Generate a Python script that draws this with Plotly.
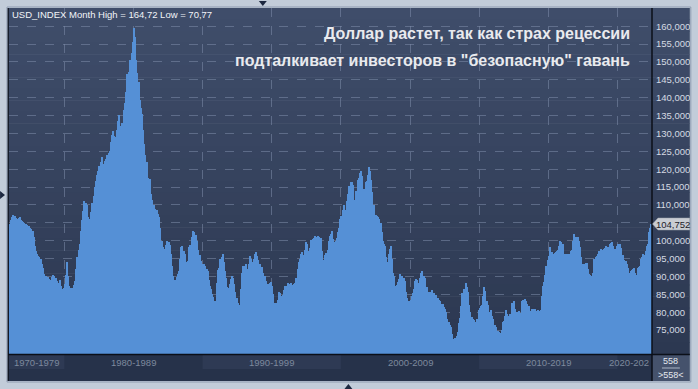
import plotly.graph_objects as go

# ---------------- data (monthly USD index, Jan 1976 - Jun 2022) ----------------
usd_1976_1979 = [
    104.6, 105.8, 106.6, 107.3, 107.0, 106.8, 106.4, 106.1, 106.3, 106.5, 105.8, 105.4,
    105.2, 105.0, 104.7, 104.5, 104.2, 104.0, 103.6, 103.3, 102.6, 101.0, 98.6, 97.0,
    96.2, 95.8, 95.5, 94.9, 93.5, 92.5, 90.8, 89.6, 90.1, 89.8, 89.2, 88.6,
    89.0, 89.8, 90.4, 90.2, 89.6, 88.6, 88.2, 87.8, 88.9, 87.2, 86.6, 86.9,
]
usd_1980_1989 = [
    87.8, 90.5, 94.0, 90.2, 87.4, 86.8, 86.4, 86.9, 87.5, 88.6, 92.0, 95.5,
    97.5, 99.0, 102.6, 105.8, 108.2, 111.2, 110.6, 110.0, 106.6, 104.8, 106.0, 108.0,
    110.5, 112.5, 114.9, 116.8, 118.5, 119.4, 120.8, 122.0, 123.4, 118.0, 121.4, 122.2,
    122.8, 124.1, 124.6, 125.0, 127.5, 129.5, 130.6, 129.2, 129.0, 131.1, 133.4, 135.3,
    132.0, 129.0, 133.0, 136.5, 138.6, 141.7, 146.5, 146.0, 147.3, 150.5, 152.5, 155.5,
    159.5, 157.0, 150.5, 147.0, 144.5, 139.5, 137.0, 135.5, 131.0, 127.0, 124.1, 122.0,
    117.5, 116.5, 117.2, 113.0, 111.5, 110.0, 108.8, 107.5, 108.5, 107.5, 106.5, 103.5,
    99.8, 98.3, 97.8, 97.0, 98.9, 99.8, 99.6, 98.9, 96.2, 93.0, 90.2, 87.0,
    89.0, 89.8, 90.6, 91.4, 95.0, 98.1, 98.5, 97.0, 96.2, 94.0, 92.6, 94.3,
    98.1, 98.9, 101.0, 102.6, 102.3, 99.0, 101.5, 99.8, 97.5, 96.0, 94.2, 93.5,
]
usd_1990_1999 = [
    93.4, 93.6, 92.8, 92.0, 91.4, 89.0, 87.2, 86.4, 85.0, 84.2, 83.0, 82.7,
    88.3, 91.9, 92.5, 94.8, 95.5, 96.2, 94.0, 91.5, 89.5, 87.0, 86.8, 88.0,
    89.2, 90.0, 89.5, 88.0, 85.6, 84.0, 82.7, 80.8, 82.0, 86.5, 91.0, 92.8,
    93.0, 93.5, 92.0, 90.0, 93.5, 95.6, 94.8, 94.0, 95.0, 96.2, 96.7, 95.6,
    94.5, 93.5, 92.6, 92.6, 91.0, 90.0, 90.0, 88.6, 88.0, 88.0, 88.3, 88.5,
    87.2, 85.0, 82.7, 82.5, 82.7, 83.5, 85.6, 85.3, 84.6, 84.8, 86.1, 87.2,
    87.2, 87.0, 88.3, 88.0, 88.2, 86.8, 87.5, 88.0, 88.2, 89.5, 92.0, 94.0,
    95.0, 96.2, 96.7, 96.0, 97.5, 99.5, 99.2, 97.0, 96.5, 98.0, 100.2, 100.6,
    100.8, 101.2, 101.0, 100.4, 101.2, 101.0, 100.8, 97.0, 94.5, 94.3, 95.9, 96.5,
    97.5, 99.8, 101.2, 102.0, 102.6, 100.4, 99.6, 100.0, 100.8, 102.5, 103.5, 106.0,
]
usd_2000_2009 = [
    106.8, 108.5, 110.1, 108.5, 108.7, 111.0, 113.0, 115.2, 116.3, 116.5, 115.5, 111.0,
    111.5, 114.0, 117.1, 117.5, 119.0, 119.4, 118.0, 113.8, 114.5, 116.3, 116.8, 118.5,
    120.5, 119.5, 117.0, 113.5, 110.1, 107.3, 107.2, 107.0, 106.5, 106.0, 105.0, 102.5,
    100.0, 99.0, 98.5, 95.3, 94.0, 96.2, 97.6, 98.5, 94.8, 91.0, 90.0, 87.2,
    87.5, 88.5, 89.2, 90.6, 89.8, 90.0, 89.5, 88.6, 85.6, 84.0, 81.5, 83.0,
    83.5, 84.5, 85.5, 86.4, 88.6, 89.2, 89.0, 88.3, 89.5, 91.1, 91.5, 89.8,
    90.2, 89.5, 87.0, 85.6, 85.6, 85.6, 85.6, 86.1, 85.5, 84.2, 84.8, 84.0,
    84.0, 83.5, 83.2, 82.2, 82.2, 81.5, 80.8, 80.0, 78.0, 77.2, 76.5, 75.8,
    74.0, 72.4, 72.4, 72.8, 73.3, 74.5, 77.0, 78.5, 81.7, 85.5, 86.4, 82.0,
    88.3, 87.0, 85.6, 82.0, 80.0, 78.6, 78.0, 77.8, 77.2, 76.5, 78.0, 80.5,
]
usd_2010_2019 = [
    81.2, 81.7, 82.0, 84.6, 87.0, 86.0, 83.0, 82.0, 80.0, 78.0, 80.5, 79.0,
    78.0, 76.5, 75.8, 74.0, 74.8, 74.5, 74.3, 75.0, 77.2, 77.5, 79.0, 80.5,
    79.4, 79.0, 79.4, 79.6, 82.7, 82.3, 83.0, 81.0, 80.0, 79.8, 80.2, 79.8,
    79.4, 83.0, 83.3, 83.6, 83.0, 82.3, 81.8, 81.7, 80.2, 80.8, 80.8, 80.0,
    81.0, 80.2, 80.0, 80.5, 80.4, 80.6, 84.6, 87.2, 88.5, 90.5, 93.0, 94.5,
    95.6, 98.3, 95.5, 96.7, 96.2, 96.5, 96.7, 97.0, 97.5, 98.5, 99.8, 99.5,
    99.0, 95.0, 96.2, 94.0, 96.2, 96.2, 96.2, 97.0, 97.5, 99.8, 101.8, 101.0,
    101.0, 101.0, 99.8, 98.2, 95.5, 93.4, 93.4, 93.6, 93.8, 93.8, 92.0, 90.8,
    90.5, 90.0, 91.0, 94.8, 95.0, 95.3, 95.6, 96.2, 97.0, 97.6, 96.7, 97.3,
    97.6, 98.0, 98.5, 98.2, 97.6, 99.0, 99.3, 99.5, 98.5, 97.6, 97.8, 98.5,
]
usd_2020_2022 = [
    99.0, 99.0, 99.0, 98.0, 96.0, 94.5, 94.0, 94.3, 93.5, 92.5, 91.0, 91.5,
    91.8, 92.0, 92.5, 91.0, 90.5, 92.3, 92.6, 93.0, 94.8, 95.3, 96.2, 96.0,
    97.0, 98.5, 99.0, 102.5, 103.5, 104.752,
]

decade_labels = ["1970-1979", "1980-1989", "1990-1999", "2000-2009", "2010-2019", "2020-202"]
decade_start_bar = [0, 48, 168, 288, 408, 528]          # bar index of Jan of each decade (first = Jan 1976)
y_ticks = [75, 80, 85, 90, 95, 100, 105, 110, 115, 120, 125, 130, 135, 140, 145, 150, 155, 160]
title_lines = ["Доллар растет, так как страх рецессии",
               "подталкивает инвесторов в \"безопасную\" гавань"]
info_text = "USD_INDEX Month High = 164,72 Low = 70,77"
last_value = 104.752

values = usd_1976_1979 + usd_1980_1989 + usd_1990_1999 + usd_2000_2009 + usd_2010_2019 + usd_2020_2022
n = len(values)
bars = list(range(n))

# ---------------- geometry helpers (pixel -> paper) ----------------
W, H = 698, 389
L, R, T, B = 9, 655, 8, 354


def px(x):
    return (x - L) / (R - L)


def py(y):
    return (B - y) / (B - T)


def fmt(v):
    return f"{v:.3f}".replace(".", ",")


fig = go.Figure()
fig.add_trace(go.Bar(x=bars, y=values, marker=dict(color="#5590d6", line=dict(width=0)),
                     hoverinfo="skip", showlegend=False))

shapes = []
# dark panel gradient (plot + right axis)
N = 30
top_c = (63, 77, 106)
bot_c = (44, 56, 81)
for k in range(N):
    t = k / (N - 1)
    c = tuple(round(top_c[j] + (bot_c[j] - top_c[j]) * t) for j in range(3))
    y0 = T + (B - T) * k / N
    y1 = T + (B - T) * (k + 1) / N
    shapes.append(dict(type="rect", xref="paper", yref="paper", x0=px(8), x1=px(693),
                       y0=py(y1 + 0.5), y1=py(y0), fillcolor="rgb(%d,%d,%d)" % c,
                       line=dict(width=0), layer="below"))
# bottom strip
shapes.append(dict(type="rect", xref="paper", yref="paper", x0=px(8), x1=px(655), y0=py(381), y1=py(354),
                   fillcolor="#26324a", line=dict(width=0), layer="below"))
# lighter decade boxes (alternating)
for k in (0, 2, 4):
    x0 = decade_start_bar[k] - 0.5 if k > 0 else -0.5
    x1 = decade_start_bar[k + 1] - 0.5
    shapes.append(dict(type="rect", xref="x", yref="paper", x0=x0, x1=x1, y0=py(369), y1=py(355),
                       fillcolor="#2e3a54", line=dict(width=0), layer="below"))
# bottom-right counter box
shapes.append(dict(type="rect", xref="paper", yref="paper", x0=px(655), x1=px(693), y0=py(381), y1=py(354),
                   fillcolor="#45526c", line=dict(width=0), layer="below"))
shapes.append(dict(type="line", xref="paper", yref="paper", x0=px(665), x1=px(683), y0=py(368), y1=py(368),
                   line=dict(color="#aab4c4", width=1), layer="above"))
# black separators
shapes.append(dict(type="line", xref="paper", yref="paper", x0=px(655), x1=px(655), y0=py(381), y1=py(8),
                   line=dict(color="#0b0f18", width=1.5), layer="above"))
shapes.append(dict(type="line", xref="paper", yref="paper", x0=px(8), x1=px(693), y0=py(354.5), y1=py(354.5),
                   line=dict(color="#0b0f18", width=1.5), layer="above"))
shapes.append(dict(type="line", xref="paper", yref="paper", x0=px(8), x1=px(8), y0=py(381), y1=py(8),
                   line=dict(color="#0b0f18", width=1.5), layer="above"))
# outer panel frame
shapes.append(dict(type="rect", xref="paper", yref="paper", x0=px(7), x1=px(694), y0=py(382), y1=py(7),
                   fillcolor="rgba(0,0,0,0)", line=dict(color="#8e9bb0", width=1), layer="above"))


def tri(points):
    p = "M " + " L ".join(f"{px(a)},{py(b)}" for a, b in points) + " Z"
    return dict(type="path", xref="paper", yref="paper", path=p, fillcolor="#1c2840",
                line=dict(width=0), layer="above")


shapes.append(tri([(260, 1), (268, 1), (264, 6)]))
shapes.append(tri([(0, 191), (0, 199), (5, 195)]))
shapes.append(tri([(346, 389), (354, 389), (350, 384)]))

# price tag
tag = [(655.5, 224), (661, 218), (693, 218), (693, 230), (661, 230)]
shapes.append(dict(type="path", xref="paper", yref="paper",
                   path="M " + " L ".join(f"{px(a)},{py(b)}" for a, b in tag) + " Z",
                   fillcolor="#c9cdd3", line=dict(color="#9aa0a8", width=0.5), layer="above"))

annotations = []
for k, (lbl, s, e) in enumerate(zip(decade_labels, decade_start_bar, decade_start_bar[1:] + [n + 30])):
    if k == len(decade_labels) - 1:
        ax, axref, anchor = px(654), "paper", "right"   # last (cut-off) decade label ends at the axis
    else:
        ax, axref, anchor = (s + e) / 2 - 0.5, "x", "center"
    annotations.append(dict(x=ax, y=py(362.5), xref=axref, yref="paper", text=lbl, showarrow=False,
                            xanchor=anchor, yanchor="middle",
                            font=dict(family="Liberation Sans, Arial", size=9.5, color="#7d899d")))
annotations.append(dict(x=px(674), y=py(361), xref="paper", yref="paper", text=str(n), showarrow=False,
                        xanchor="center", yanchor="middle",
                        font=dict(family="Liberation Sans, Arial", size=9, color="#e4e8ee")))
annotations.append(dict(x=px(674), y=py(375), xref="paper", yref="paper", text="&gt;%d&lt;" % n,
                        showarrow=False, xanchor="center", yanchor="middle",
                        font=dict(family="Liberation Sans, Arial", size=9, color="#e4e8ee")))
annotations.append(dict(x=px(10), y=py(15), xref="paper", yref="paper", text=info_text, showarrow=False,
                        xanchor="left", yanchor="middle",
                        font=dict(family="Liberation Sans, Arial", size=9.5, color="#f2f4f8")))
for i, line in enumerate(title_lines):
    annotations.append(dict(x=px(635), y=py(33 + 28 * i), xref="paper", yref="paper",
                            text="<b>%s</b>" % line, showarrow=False,
                            xanchor="right", yanchor="middle",
                            font=dict(family="Liberation Sans, Arial", size=16, color="#e9eaee")))
annotations.append(dict(x=px(676), y=py(224), xref="paper", yref="paper", text=fmt(last_value),
                        showarrow=False, xanchor="center", yanchor="middle",
                        font=dict(family="Liberation Sans, Arial", size=9.5, color="#1d222a")))

tick_text = [fmt(v) if v != 105 else "" for v in y_ticks]
grid_vals = [decade_start_bar[1] - 0.5 + 60 * k for k in range(9)]

fig.update_layout(
    width=W, height=H,
    margin=dict(l=L, r=W - R, t=T, b=H - B, pad=0),
    paper_bgcolor="#c2ccd9",
    plot_bgcolor="rgba(0,0,0,0)",
    bargap=0,
    showlegend=False,
    shapes=shapes,
    annotations=annotations,
    xaxis=dict(range=[-0.5, n - 0.5], showticklabels=False, ticks="", tickvals=grid_vals,
               showgrid=True, gridcolor="rgba(125,140,170,0.55)", griddash="dash", gridwidth=1,
               zeroline=False, showline=False, fixedrange=True),
    yaxis=dict(side="right", range=[68.3, 165.1], tickvals=y_ticks, ticktext=tick_text,
               showgrid=True, gridcolor="rgba(125,140,170,0.55)", griddash="dash", gridwidth=1,
               ticks="", ticklabelstandoff=3,
               tickfont=dict(family="Liberation Sans, Arial", size=9.5, color="#d5dae3"),
               zeroline=False, showline=False, fixedrange=True),
)

fig.write_html("out.html", config={"displayModeBar": False},
               post_script="document.body.style.margin='0';document.body.style.overflow='hidden';")
